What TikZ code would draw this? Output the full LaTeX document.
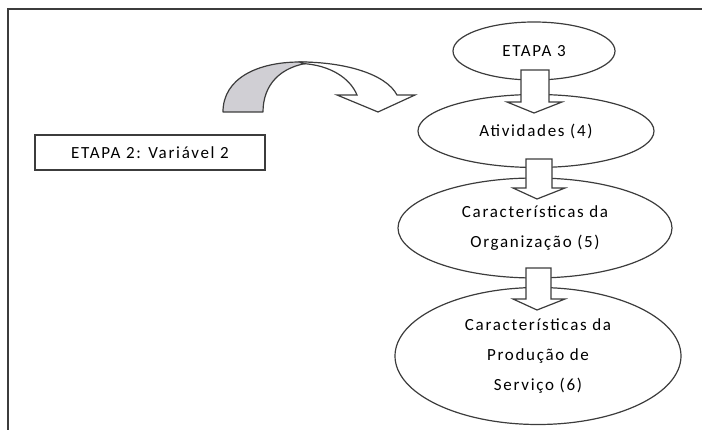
\documentclass[tikz,border=0pt]{standalone}
\usepackage{fontspec}
\setmainfont{Carlito}[LetterSpace=10]
\usetikzlibrary{shapes.geometric}
\definecolor{edge}{RGB}{60,60,60}
\definecolor{bandgray}{RGB}{208,207,212}
\tikzset{
  oval/.style={draw=edge, line width=1.2pt, ellipse, inner sep=0pt, align=center,
    font=\fontsize{17}{30}\selectfont},
  stagebox/.style={draw=edge, line width=1.2pt, rectangle, inner sep=0pt,
    font=\fontsize{17}{30}\selectfont},
  flowarrow/.style={draw=edge, line width=1.2pt, fill=white, line join=miter},
  frame/.style={draw=edge, line width=1.8pt},
}
\begin{document}
\begin{tikzpicture}[x=1pt, y=-1pt]
  \useasboundingbox (0,0) rectangle (702,430);
  % open frame: top and left edges only
  \coordinate (fbl) at (8,430);
  \coordinate (ftl) at (8,9);
  \coordinate (ftr) at (702,9);
  \draw[frame] (fbl) -- (ftl) -- (ftr);

  % stage 2 box
  \node[stagebox, minimum width=230pt, minimum height=35pt] (etapa2) at (150,152.5) {ETAPA 2: Variável 2};

  % stage 3 chain
  \node[oval, minimum width=162pt, minimum height=58pt] (etapa3) at (534,51) {ETAPA 3};
  \node[oval, minimum width=236pt, minimum height=73pt] (ativ) at (536,131) {Atividades (4)};
  \node[oval, minimum width=274pt, minimum height=100pt] (org) at (535,228) {Características da\\Organização (5)};
  \node[oval, minimum width=286pt, minimum height=137pt] (prod) at (538,356) {Características da\\Produção de\\Serviço (6)};

  % block arrows between the ovals
  \draw[flowarrow] (521,70) -- (549,70) -- (549,102) -- (562,102) -- (534,113) -- (507,102) -- (521,102) -- cycle;
  \draw[flowarrow] (526,159) -- (552,159) -- (552,188) -- (565,188) -- (537,199) -- (513,188) -- (526,188) -- cycle;
  \draw[flowarrow] (526,268) -- (551,268) -- (551,299) -- (565,299) -- (537,310) -- (513,299) -- (526,299) -- cycle;

  % curved arrow: shaded back of the band
  \draw[draw=edge, line width=1.2pt, fill=bandgray, line join=round]
    (223,112) .. controls (223,78) and (258,62) .. (300,62)
    -- (312,62.5) .. controls (280,66) and (263,85) .. (263,112) -- cycle;
  % curved arrow: front of the band with its head
  \draw[draw=edge, line width=1.2pt, fill=white, line join=miter]
    (300,62) .. controls (345,62) and (386,74) .. (397,95)
    -- (415,95) -- (378,112) -- (337,95) -- (357,95)
    .. controls (350,78) and (330,65) .. (302,63.5) -- cycle;
\end{tikzpicture}
\end{document}
